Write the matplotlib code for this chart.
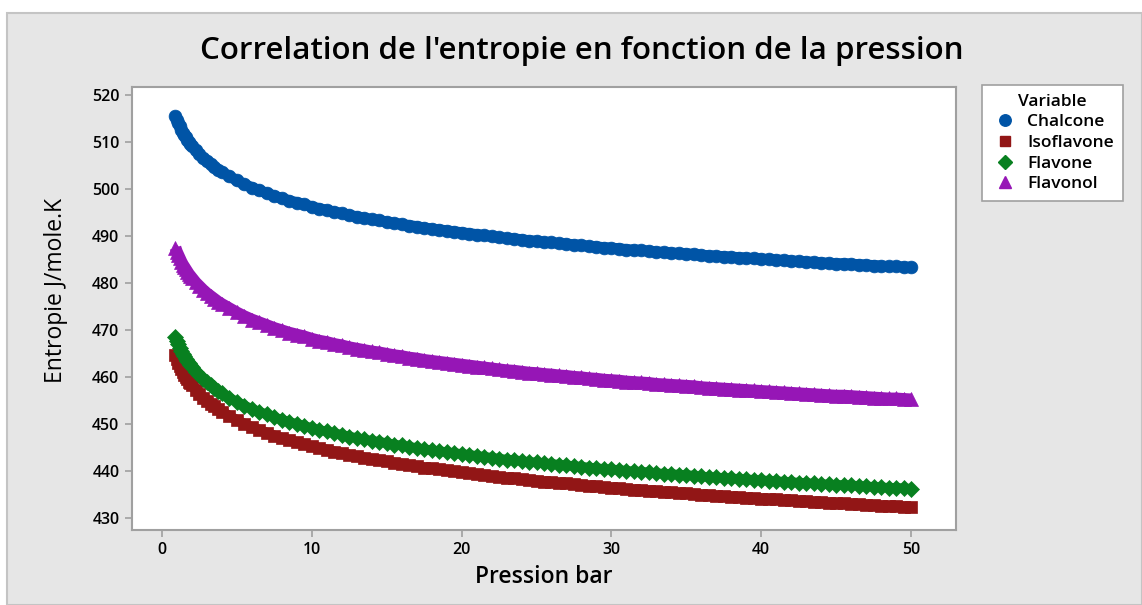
import matplotlib.pyplot as plt
from matplotlib.patches import Rectangle
from matplotlib.lines import Line2D

# pressure (bar)
pression = [0.9, 1.0, 1.1, 1.2, 1.3, 1.4, 1.5, 1.6, 1.7, 1.8, 1.9, 2.0,
            2.25, 2.5, 2.75, 3.0, 3.25, 3.5, 3.75, 4.0,
            4.5, 5.0, 5.5, 6.0, 6.5, 7.0, 7.5, 8.0, 8.5, 9.0, 9.5,
            10, 10.5, 11, 11.5, 12, 12.5, 13, 13.5, 14, 14.5,
            15, 15.5, 16, 16.5, 17, 17.5, 18, 18.5, 19, 19.5,
            20, 20.5, 21, 21.5, 22, 22.5, 23, 23.5, 24, 24.5,
            25, 25.5, 26, 26.5, 27, 27.5, 28, 28.5, 29, 29.5,
            30, 30.5, 31, 31.5, 32, 32.5, 33, 33.5, 34, 34.5,
            35, 35.5, 36, 36.5, 37, 37.5, 38, 38.5, 39, 39.5,
            40, 40.5, 41, 41.5, 42, 42.5, 43, 43.5, 44, 44.5,
            45, 45.5, 46, 46.5, 47, 47.5, 48, 48.5, 49, 49.5,
            50]

chalcone = [515.6, 514.7, 514.0, 513.3, 512.6, 512.0, 511.5, 511.0, 510.5, 510.0, 509.6, 509.2,
            508.2, 507.4, 506.6, 505.9, 505.3, 504.7, 504.1, 503.6,
            502.7, 501.8, 501.0, 500.3, 499.7, 499.1, 498.5, 498.0, 497.5, 497.1, 496.7,
            496.2, 495.8, 495.5, 495.1, 494.8, 494.4, 494.1, 493.8, 493.5, 493.3,
            493.0, 492.7, 492.5, 492.2, 492.0, 491.7, 491.5, 491.3, 491.1, 490.9,
            490.7, 490.5, 490.3, 490.1, 489.9, 489.7, 489.5, 489.4, 489.2, 489.0,
            488.9, 488.7, 488.6, 488.4, 488.3, 488.1, 488.0, 487.8, 487.7, 487.5,
            487.4, 487.3, 487.1, 487.0, 486.9, 486.8, 486.6, 486.5, 486.4, 486.3,
            486.2, 486.1, 485.9, 485.8, 485.7, 485.6, 485.5, 485.4, 485.3, 485.2,
            485.1, 485.0, 484.9, 484.8, 484.7, 484.6, 484.5, 484.4, 484.3, 484.2,
            484.1, 484.1, 484.0, 483.9, 483.8, 483.7, 483.6, 483.5, 483.5, 483.4,
            483.3]

isoflavone = [464.6, 463.7, 463.0, 462.3, 461.6, 461.0, 460.5, 460.0, 459.5, 459.0, 458.6, 458.2,
              457.2, 456.4, 455.6, 454.9, 454.3, 453.7, 453.1, 452.6,
              451.7, 450.8, 450.0, 449.3, 448.7, 448.1, 447.5, 447.0, 446.5, 446.1, 445.7,
              445.2, 444.8, 444.5, 444.1, 443.8, 443.4, 443.1, 442.8, 442.5, 442.3,
              442.0, 441.7, 441.5, 441.2, 441.0, 440.7, 440.5, 440.3, 440.1, 439.9,
              439.7, 439.5, 439.3, 439.1, 438.9, 438.7, 438.5, 438.4, 438.2, 438.0,
              437.9, 437.7, 437.6, 437.4, 437.3, 437.1, 437.0, 436.8, 436.7, 436.5,
              436.4, 436.3, 436.1, 436.0, 435.9, 435.8, 435.6, 435.5, 435.4, 435.3,
              435.2, 435.1, 434.9, 434.8, 434.7, 434.6, 434.5, 434.4, 434.3, 434.2,
              434.1, 434.0, 433.9, 433.8, 433.7, 433.6, 433.5, 433.4, 433.3, 433.2,
              433.1, 433.1, 433.0, 432.9, 432.8, 432.7, 432.6, 432.5, 432.5, 432.4,
              432.3]

flavone = [468.5, 467.6, 466.9, 466.2, 465.5, 464.9, 464.4, 463.9, 463.4, 462.9, 462.5, 462.1,
           461.1, 460.3, 459.5, 458.8, 458.2, 457.6, 457.0, 456.5,
           455.6, 454.7, 453.9, 453.2, 452.6, 452.0, 451.4, 450.9, 450.4, 450.0, 449.6,
           449.1, 448.7, 448.4, 448.0, 447.7, 447.3, 447.0, 446.7, 446.4, 446.2,
           445.9, 445.6, 445.4, 445.1, 444.9, 444.6, 444.4, 444.2, 444.0, 443.8,
           443.6, 443.4, 443.2, 443.0, 442.8, 442.6, 442.4, 442.3, 442.1, 441.9,
           441.8, 441.6, 441.5, 441.3, 441.2, 441.0, 440.9, 440.7, 440.6, 440.4,
           440.3, 440.2, 440.0, 439.9, 439.8, 439.7, 439.5, 439.4, 439.3, 439.2,
           439.1, 439.0, 438.8, 438.7, 438.6, 438.5, 438.4, 438.3, 438.2, 438.1,
           438.0, 437.9, 437.8, 437.7, 437.6, 437.5, 437.4, 437.3, 437.2, 437.1,
           437.0, 437.0, 436.9, 436.8, 436.7, 436.6, 436.5, 436.4, 436.4, 436.3,
           436.2]

flavonol = [487.5, 486.6, 485.9, 485.2, 484.5, 483.9, 483.4, 482.9, 482.4, 481.9, 481.5, 481.1,
            480.1, 479.3, 478.5, 477.8, 477.2, 476.6, 476.0, 475.5,
            474.6, 473.7, 472.9, 472.2, 471.6, 471.0, 470.4, 469.9, 469.4, 469.0, 468.6,
            468.1, 467.7, 467.4, 467.0, 466.7, 466.3, 466.0, 465.7, 465.4, 465.2,
            464.9, 464.6, 464.4, 464.1, 463.9, 463.6, 463.4, 463.2, 463.0, 462.8,
            462.6, 462.4, 462.2, 462.0, 461.8, 461.6, 461.4, 461.3, 461.1, 460.9,
            460.8, 460.6, 460.5, 460.3, 460.2, 460.0, 459.9, 459.7, 459.6, 459.4,
            459.3, 459.2, 459.0, 458.9, 458.8, 458.7, 458.5, 458.4, 458.3, 458.2,
            458.1, 458.0, 457.8, 457.7, 457.6, 457.5, 457.4, 457.3, 457.2, 457.1,
            457.0, 456.9, 456.8, 456.7, 456.6, 456.5, 456.4, 456.3, 456.2, 456.1,
            456.0, 456.0, 455.9, 455.8, 455.7, 455.6, 455.5, 455.4, 455.4, 455.3,
            455.2]

series = [
    ('Chalcone', chalcone, '#0054a6', 'o', 9.2),
    ('Isoflavone', isoflavone, '#921616', 's', 8.6),
    ('Flavone', flavone, '#088020', 'D', 8.0),
    ('Flavonol', flavonol, '#9616b6', '^', 10.0),
]

plt.rcParams['font.family'] = ['Open Sans', 'DejaVu Sans']

fig = plt.figure(figsize=(11.42, 6.05), dpi=100)
fig.patch.set_facecolor('white')
# grey panel like minitab
fig.patches.append(Rectangle((7 / 1142, 0), 1 - 7 / 1142, 1 - 13 / 605,
                             transform=fig.transFigure, facecolor='#e6e6e6',
                             edgecolor='#c4c4c4', linewidth=1.5, zorder=-5))

ax = fig.add_axes([132 / 1142, 1 - 530 / 605, (956 - 132) / 1142, (530 - 87) / 605])
ax.set_zorder(2)
ax.set_facecolor('white')

for name, vals, col, mk, ms in series:
    # the points overlap into a solid band; a same-colour stroke fills the gaps
    ax.plot(pression, vals, '-', color=col, lw=ms * 0.85, solid_capstyle='butt')
    ax.plot(pression, vals, linestyle='', marker=mk, markersize=ms,
            markerfacecolor=col, markeredgecolor=col, markeredgewidth=0.5, label=name)

ax.set_xlim(-2, 53)
ax.set_ylim(427.4, 521.7)
ax.set_xticks([0, 10, 20, 30, 40, 50])
ax.set_yticks(range(430, 521, 10))
for s in ax.spines.values():
    s.set_color('#a0a0a0')
    s.set_linewidth(1.5)
ax.tick_params(direction='out', length=5, width=1.2, color='#a0a0a0',
               labelsize=11.5, labelcolor='black', pad=4)
for lb in ax.get_xticklabels() + ax.get_yticklabels():
    lb.set_fontweight('semibold')

ax.set_xlabel('Pression bar', fontsize=16.5, fontweight='semibold', labelpad=5)
ax.set_ylabel('Entropie J/mole.K', fontsize=16.5)
ax.yaxis.set_label_coords(-0.078, 0.54)
fig.text(582 / 1142, 1 - 51 / 605, "Correlation de l'entropie en fonction de la pression",
         ha='center', va='center', fontsize=22.5, fontweight='semibold')

handles = [Line2D([], [], linestyle='', marker=mk, markersize=ms * 0.9,
                  markerfacecolor=col, markeredgecolor=col)
           for name, vals, col, mk, ms in series]
leg = fig.legend(handles, [s[0] for s in series], title='Variable',
                 loc='upper left', bbox_to_anchor=(982 / 1142, 1 - 85 / 605),
                 prop={'size': 12.5, 'weight': 'semibold'},
                 frameon=True, fancybox=False, framealpha=1,
                 edgecolor='#a0a0a0', borderpad=0.5, labelspacing=0.26,
                 handletextpad=0.5, handlelength=1.6, borderaxespad=0)
leg.get_title().set_fontsize(12.5)
leg.get_title().set_fontweight('semibold')
leg.get_frame().set_linewidth(1.2)

fig.savefig('out.png', dpi=100)
